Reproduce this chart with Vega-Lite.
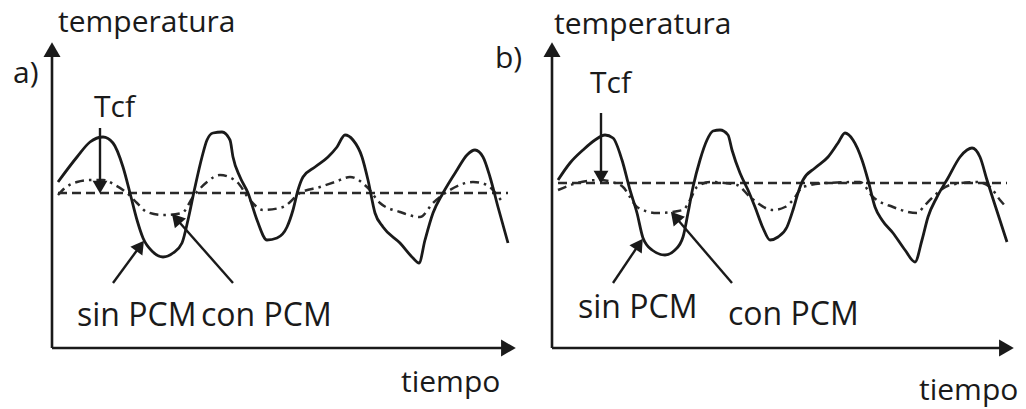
{
  "$schema": "https://vega.github.io/schema/vega-lite/v6.json",
  "padding": 0,
  "spacing": 0,
  "bounds": "flush",
  "background": "white",
  "config": {"view": {"stroke": null}},
  "datasets": {
    "a_solid": [
      {"t":6,"T":166},{"t":25,"T":191},{"t":38,"T":206},{"t":51,"T":211},{"t":61,"T":205},{"t":71,"T":181},{"t":78,"T":155},{"t":85,"T":128},{"t":91,"T":110},{"t":101,"T":96},{"t":111,"T":91},{"t":121,"T":95},{"t":130,"T":105},{"t":136,"T":128},{"t":143,"T":161},{"t":150,"T":191},{"t":155,"T":208},{"t":161,"T":215},{"t":170,"T":216},{"t":178,"T":208},{"t":181,"T":191},{"t":188,"T":171},{"t":196,"T":155},{"t":205,"T":128},{"t":215,"T":108},{"t":225,"T":110},{"t":235,"T":121},{"t":241,"T":138},{"t":246,"T":158},{"t":251,"T":171},{"t":263,"T":181},{"t":276,"T":191},{"t":285,"T":201},{"t":293,"T":213},{"t":301,"T":208},{"t":310,"T":191},{"t":316,"T":168},{"t":323,"T":135},{"t":331,"T":121},{"t":348,"T":105},{"t":361,"T":90},{"t":367,"T":85},{"t":373,"T":108},{"t":381,"T":135},{"t":391,"T":155},{"t":405,"T":178},{"t":415,"T":193},{"t":423,"T":198},{"t":431,"T":191},{"t":438,"T":171},{"t":446,"T":141},{"t":456,"T":105}
    ],
    "a_pcm": [
      {"t":6,"T":153},{"t":13,"T":160},{"t":25,"T":166},{"t":38,"T":168},{"t":51,"T":168},{"t":63,"T":163},{"t":75,"T":155},{"t":85,"T":145},{"t":95,"T":136},{"t":111,"T":133},{"t":130,"T":135},{"t":141,"T":151},{"t":155,"T":166},{"t":168,"T":173},{"t":185,"T":166},{"t":198,"T":148},{"t":211,"T":138},{"t":231,"T":141},{"t":248,"T":155},{"t":268,"T":161},{"t":283,"T":166},{"t":298,"T":171},{"t":315,"T":161},{"t":328,"T":145},{"t":348,"T":136},{"t":368,"T":131},{"t":381,"T":145},{"t":398,"T":158},{"t":421,"T":166},{"t":435,"T":163},{"t":445,"T":153},{"t":451,"T":145}
    ],
    "a_tcf": [{"t":6,"T":155},{"t":456,"T":155}],
    "a_axes": [{"t":0,"T":0,"t2":0,"T2":296},{"t":0,"T":0,"t2":454,"T2":0}],
    "a_axisheads": [{"t":0,"T":296,"dir":0},{"t":454,"T":0,"dir":90}],
    "a_arrows": [{"t":48,"T":220,"t2":48,"T2":163},{"t":61,"T":65,"t2":86.9,"T2":100.3},{"t":181,"T":65,"t2":125.6,"T2":127.8}],
    "a_heads": [{"t":48,"T":163,"dir":180},{"t":86.9,"T":100.3,"dir":36},{"t":125.6,"T":127.8,"dir":318.6}],
    "a_text": [
      {"t":6,"T":316,"label":"temperatura","kind":"n"},
      {"t":-39,"T":265,"label":"a)","kind":"n"},
      {"t":42,"T":231,"label":"Tcf","kind":"n"},
      {"t":25,"T":22,"label":"sin PCM","kind":"c"},
      {"t":149,"T":22,"label":"con PCM","kind":"c"},
      {"t":349,"T":-44,"label":"tiempo","kind":"n"}
    ],
    "b_solid": [
      {"t":6,"T":168},{"t":18,"T":185},{"t":31,"T":198},{"t":43,"T":208},{"t":53,"T":213},{"t":61,"T":210},{"t":70,"T":188},{"t":78,"T":158},{"t":85,"T":135},{"t":91,"T":110},{"t":100,"T":98},{"t":113,"T":93},{"t":123,"T":98},{"t":131,"T":111},{"t":136,"T":135},{"t":141,"T":161},{"t":148,"T":188},{"t":155,"T":208},{"t":161,"T":217},{"t":168,"T":218},{"t":176,"T":213},{"t":180,"T":198},{"t":188,"T":175},{"t":196,"T":158},{"t":203,"T":141},{"t":211,"T":120},{"t":218,"T":108},{"t":226,"T":111},{"t":235,"T":121},{"t":241,"T":138},{"t":246,"T":155},{"t":251,"T":168},{"t":263,"T":180},{"t":276,"T":191},{"t":286,"T":205},{"t":293,"T":215},{"t":301,"T":208},{"t":310,"T":188},{"t":316,"T":168},{"t":323,"T":141},{"t":330,"T":128},{"t":341,"T":115},{"t":353,"T":98},{"t":363,"T":86},{"t":370,"T":108},{"t":376,"T":131},{"t":385,"T":151},{"t":396,"T":170},{"t":408,"T":191},{"t":415,"T":198},{"t":420,"T":200},{"t":428,"T":191},{"t":435,"T":168},{"t":443,"T":143},{"t":455,"T":106}
    ],
    "b_pcm": [
      {"t":6,"T":158},{"t":25,"T":165},{"t":48,"T":168},{"t":60,"T":166},{"t":71,"T":161},{"t":78,"T":151},{"t":85,"T":141},{"t":105,"T":135},{"t":131,"T":138},{"t":138,"T":148},{"t":145,"T":161},{"t":158,"T":166},{"t":185,"T":163},{"t":198,"T":151},{"t":221,"T":138},{"t":233,"T":141},{"t":241,"T":148},{"t":251,"T":161},{"t":275,"T":165},{"t":308,"T":166},{"t":321,"T":151},{"t":341,"T":141},{"t":365,"T":135},{"t":373,"T":143},{"t":381,"T":151},{"t":398,"T":163},{"t":425,"T":166},{"t":438,"T":161},{"t":448,"T":148},{"t":455,"T":140}
    ],
    "b_tcf": [{"t":6,"T":165},{"t":455,"T":165}],
    "b_axes": [{"t":0,"T":0,"t2":0,"T2":296},{"t":0,"T":0,"t2":452,"T2":0}],
    "b_axisheads": [{"t":0,"T":296,"dir":0},{"t":452,"T":0,"dir":90}],
    "b_arrows": [{"t":49,"T":235,"t2":49,"T2":173},{"t":61,"T":65,"t2":86,"T2":102.2},{"t":180,"T":65,"t2":124.5,"T2":129.7}],
    "b_heads": [{"t":49,"T":173,"dir":180},{"t":86,"T":102.2,"dir":34},{"t":124.5,"T":129.7,"dir":319.4}],
    "b_text": [
      {"t":2,"T":314,"label":"temperatura","kind":"n"},
      {"t":-57,"T":280,"label":"b)","kind":"n"},
      {"t":38,"T":255,"label":"Tcf","kind":"n"},
      {"t":26,"T":30,"label":"sin PCM","kind":"c"},
      {"t":176,"T":23,"label":"con PCM","kind":"c"},
      {"t":367,"T":-52,"label":"tiempo","kind":"n"}
    ]
  },
  "hconcat": [
    {
      "width": 510,
      "height": 409,
      "encoding": {
        "x": {"field": "t", "type": "quantitative", "scale": {"domain": [-52, 458], "nice": false, "zero": false}, "axis": null},
        "y": {"field": "T", "type": "quantitative", "scale": {"domain": [-61, 348], "nice": false, "zero": false}, "axis": null}
      },
      "layer": [
        {"data": {"name": "a_tcf"}, "mark": {"type": "line", "color": "#2a2a2a", "strokeWidth": 2.5, "strokeDash": [9, 5]}},
        {"data": {"name": "a_pcm"}, "mark": {"type": "line", "color": "#2a2a2a", "strokeWidth": 2.5, "strokeDash": [9, 5, 2.5, 5], "interpolate": "monotone"}},
        {"data": {"name": "a_solid"}, "mark": {"type": "line", "color": "#1a1a1a", "strokeWidth": 2.8, "interpolate": "monotone"}},
        {"data": {"name": "a_axes"}, "mark": {"type": "rule", "color": "#1a1a1a", "strokeWidth": 2.6}, "encoding": {"x2": {"field": "t2"}, "y2": {"field": "T2"}}},
        {"data": {"name": "a_axisheads"}, "mark": {"type": "point", "shape": "triangle", "filled": true, "color": "#1a1a1a", "size": 290, "opacity": 1}, "encoding": {"angle": {"field": "dir", "type": "quantitative", "scale": null}}},
        {"data": {"name": "a_arrows"}, "mark": {"type": "rule", "color": "#1a1a1a", "strokeWidth": 2.4}, "encoding": {"x2": {"field": "t2"}, "y2": {"field": "T2"}}},
        {"data": {"name": "a_heads"}, "mark": {"type": "point", "shape": "triangle", "filled": true, "color": "#1a1a1a", "size": 220, "opacity": 1}, "encoding": {"angle": {"field": "dir", "type": "quantitative", "scale": null}}},
        {"data": {"name": "a_text"}, "transform": [{"filter": "datum.kind == 'n'"}], "mark": {"type": "text", "align": "left", "baseline": "alphabetic", "font": "Open Sans", "fontSize": 30, "color": "#1a1a1a"}, "encoding": {"text": {"field": "label"}}},
        {"data": {"name": "a_text"}, "transform": [{"filter": "datum.kind == 'c'"}], "mark": {"type": "text", "align": "left", "baseline": "alphabetic", "font": "Open Sans", "fontSize": 32, "color": "#1a1a1a"}, "encoding": {"text": {"field": "label"}}}
      ]
    },
    {
      "width": 516,
      "height": 409,
      "encoding": {
        "x": {"field": "t", "type": "quantitative", "scale": {"domain": [-42, 474], "nice": false, "zero": false}, "axis": null},
        "y": {"field": "T", "type": "quantitative", "scale": {"domain": [-61, 348], "nice": false, "zero": false}, "axis": null}
      },
      "layer": [
        {"data": {"name": "b_tcf"}, "mark": {"type": "line", "color": "#2a2a2a", "strokeWidth": 2.5, "strokeDash": [9, 5]}},
        {"data": {"name": "b_pcm"}, "mark": {"type": "line", "color": "#2a2a2a", "strokeWidth": 2.5, "strokeDash": [9, 5, 2.5, 5], "interpolate": "monotone"}},
        {"data": {"name": "b_solid"}, "mark": {"type": "line", "color": "#1a1a1a", "strokeWidth": 2.8, "interpolate": "monotone"}},
        {"data": {"name": "b_axes"}, "mark": {"type": "rule", "color": "#1a1a1a", "strokeWidth": 2.6}, "encoding": {"x2": {"field": "t2"}, "y2": {"field": "T2"}}},
        {"data": {"name": "b_axisheads"}, "mark": {"type": "point", "shape": "triangle", "filled": true, "color": "#1a1a1a", "size": 290, "opacity": 1}, "encoding": {"angle": {"field": "dir", "type": "quantitative", "scale": null}}},
        {"data": {"name": "b_arrows"}, "mark": {"type": "rule", "color": "#1a1a1a", "strokeWidth": 2.4}, "encoding": {"x2": {"field": "t2"}, "y2": {"field": "T2"}}},
        {"data": {"name": "b_heads"}, "mark": {"type": "point", "shape": "triangle", "filled": true, "color": "#1a1a1a", "size": 220, "opacity": 1}, "encoding": {"angle": {"field": "dir", "type": "quantitative", "scale": null}}},
        {"data": {"name": "b_text"}, "transform": [{"filter": "datum.kind == 'n'"}], "mark": {"type": "text", "align": "left", "baseline": "alphabetic", "font": "Open Sans", "fontSize": 30, "color": "#1a1a1a"}, "encoding": {"text": {"field": "label"}}},
        {"data": {"name": "b_text"}, "transform": [{"filter": "datum.kind == 'c'"}], "mark": {"type": "text", "align": "left", "baseline": "alphabetic", "font": "Open Sans", "fontSize": 32, "color": "#1a1a1a"}, "encoding": {"text": {"field": "label"}}}
      ]
    }
  ]
}
